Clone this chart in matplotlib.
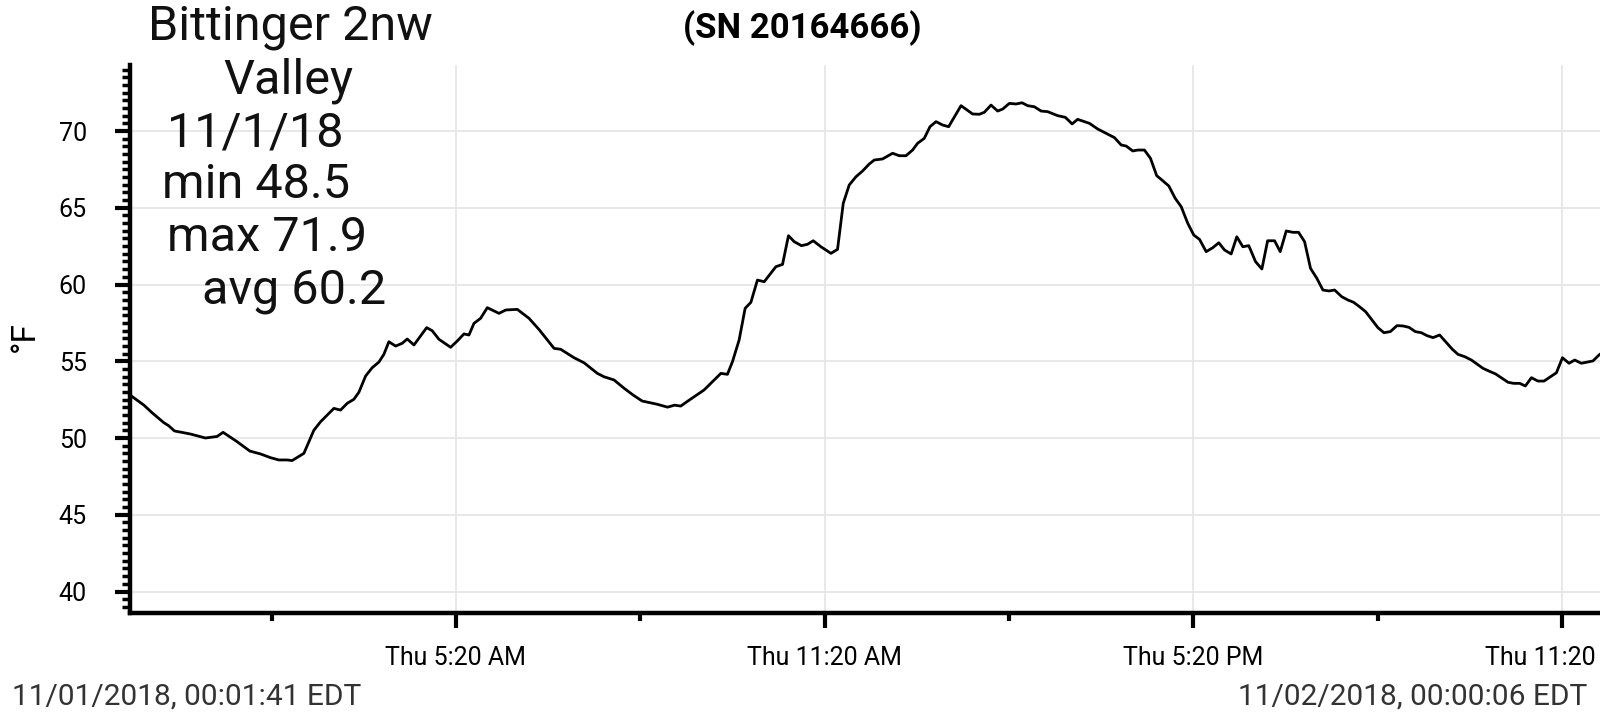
import matplotlib
matplotlib.use("Agg")
import matplotlib.pyplot as plt
from matplotlib.ticker import FixedLocator, MultipleLocator

plt.rcParams['font.family'] = ['Roboto', 'DejaVu Sans']

# minutes after midnight, 11/01/2018 (EDT)
times = [1.7, 15.1, 23.2, 34.7, 39.5, 45.1, 60.7, 75.4, 86.7, 92.6, 106.3, 118.7, 129.2, 138.9, 147.0,
         155.1, 160.0, 171.5, 181.2, 187.8, 200.8, 207.3, 213.8, 220.3, 225.2, 231.8, 238.2, 244.8, 249.6,
         254.5, 261.1, 267.5, 272.4, 279.0, 291.4, 296.8, 303.4, 314.8, 321.3, 327.8, 332.7, 337.6, 344.1,
         350.6, 362.0, 368.6, 379.9, 391.3, 401.1, 415.8, 422.3, 435.3, 445.1, 458.1, 464.6, 474.4, 484.2,
         493.0, 501.8, 516.4, 526.6, 533.5, 539.5, 546.5, 556.5, 562.3, 570.5, 578.7, 585.1, 590.0, 596.5,
         602.4, 608.0, 614.4, 621.0, 632.4, 638.9, 644.7, 650.3, 657.4, 663.3, 668.9, 676.4, 686.2, 692.6,
         698.2, 704.0, 710.6, 717.0, 723.6, 728.5, 736.6, 746.4, 752.9, 759.5, 765.9, 770.8, 777.3, 782.9,
         788.8, 795.2, 801.1, 813.2, 824.5, 831.1, 836.0, 842.5, 849.0, 853.9, 860.4, 867.0, 872.8, 878.3,
         884.8, 891.4, 897.8, 907.6, 915.1, 921.7, 927.1, 938.6, 946.7, 954.9, 963.0, 969.6, 974.5, 980.9,
         985.8, 992.3, 998.2, 1004.3, 1010.2, 1016.1, 1022.3, 1028.2, 1034.6, 1040.5, 1046.1, 1052.6,
         1059.1, 1064.9, 1070.5, 1077.0, 1082.5, 1088.4, 1094.2, 1100.8, 1107.0, 1112.6, 1119.4, 1124.9,
         1130.8, 1137.2, 1142.8, 1148.7, 1154.5, 1160.7, 1166.6, 1172.4, 1178.0, 1185.1, 1191.0, 1196.6,
         1202.4, 1208.3, 1213.8, 1220.3, 1226.2, 1232.4, 1238.9, 1244.8, 1250.6, 1256.9, 1262.7, 1268.2,
         1274.1, 1280.6, 1286.5, 1293.0, 1298.5, 1305.0, 1311.6, 1317.5, 1322.9, 1328.8, 1335.3, 1341.5,
         1347.4, 1352.9, 1358.8, 1364.3, 1370.2, 1376.6, 1382.5, 1388.7, 1394.6, 1400.5, 1406.9, 1412.5,
         1418.9, 1430.3, 1436.2, 1440.1]

temps = [52.8, 52.15, 51.65, 51.0, 50.8, 50.46, 50.26, 50.0, 50.1, 50.37, 49.76, 49.15, 48.96, 48.72, 48.57,
         48.57, 48.53, 49.0, 50.5, 51.06, 51.93, 51.82, 52.26, 52.52, 52.98, 54.04, 54.58, 54.95, 55.45,
         56.27, 55.99, 56.17, 56.45, 56.06, 57.19, 56.99, 56.43, 55.91, 56.32, 56.78, 56.71, 57.47, 57.8,
         58.49, 58.12, 58.34, 58.38, 57.8, 57.07, 55.84, 55.78, 55.23, 54.9, 54.21, 53.99, 53.78, 53.24,
         52.8, 52.41, 52.2, 52.01, 52.14, 52.08, 52.41, 52.87, 53.13, 53.67, 54.21, 54.15, 54.97, 56.38,
         58.45, 58.84, 60.29, 60.18, 61.16, 61.31, 63.18, 62.79, 62.53, 62.62, 62.85, 62.46, 62.03, 62.29,
         65.29, 66.48, 67.02, 67.39, 67.85, 68.11, 68.18, 68.55, 68.39, 68.39, 68.76, 69.2, 69.52, 70.28,
         70.61, 70.39, 70.28, 71.65, 71.11, 71.09, 71.22, 71.69, 71.3, 71.43, 71.8, 71.76, 71.84, 71.65,
         71.58, 71.3, 71.26, 71.0, 70.89, 70.46, 70.76, 70.5, 70.13, 69.85, 69.57, 69.09, 69.02, 68.7,
         68.76, 68.76, 68.22, 67.09, 66.76, 66.42, 65.62, 65.07, 63.99, 63.22, 62.94, 62.14,
         62.4, 62.72, 62.25, 61.99, 63.11, 62.46, 62.53, 61.49, 61.01, 62.85, 62.85, 62.14,
         63.49, 63.4, 63.4, 62.79, 61.05, 60.4, 59.64, 59.58, 59.64, 59.2, 58.99, 58.84,
         58.55, 58.23, 57.75, 57.19, 56.86, 56.93, 57.32, 57.3, 57.21, 56.93, 56.86, 56.67,
         56.54, 56.71, 56.27, 55.78, 55.45, 55.3, 55.08, 54.8, 54.54, 54.36, 54.17, 53.89,
         53.63, 53.56, 53.56, 53.39, 53.93, 53.71, 53.71, 53.99, 54.25, 55.23, 54.87, 55.08,
         54.87, 55.02, 55.41, 55.6]

major_ticks = [320, 680, 1040, 1400]
major_labels = ['Thu 5:20 AM', 'Thu 11:20 AM', 'Thu 5:20 PM', 'Thu 11:20 PM']
minor_ticks = [140, 500, 860, 1220]
y_ticks = [40, 45, 50, 55, 60, 65, 70]

info_lines = ['Bittinger 2nw', 'Valley', '11/1/18', 'min 48.5', 'max 71.9', 'avg 60.2']
info_left = [148, 223, 167, 162, 167, 202]          # px from left
info_base = [40, 94, 147, 198, 251, 304]            # baseline px from top

W, H = 1600, 727
fig = plt.figure(figsize=(16, 7.27), dpi=100)
ax = fig.add_axes([130 / W, 1 - 613 / H, 1473 / W, 548 / H])

ax.plot(times, temps, color='black', lw=2.0)

ax.set_xlim(times[0], times[-1])
ax.set_ylim(38.6, 74.3)

ax.xaxis.set_major_locator(FixedLocator(major_ticks))
ax.set_xticklabels(major_labels)
ax.xaxis.set_minor_locator(FixedLocator(minor_ticks))
ax.set_yticks(y_ticks)
ax.yaxis.set_minor_locator(MultipleLocator(0.5))

ax.grid(True, which='major', color='#e6e6e6', lw=1.3)
ax.set_axisbelow(True)

for s in ['top', 'right']:
    ax.spines[s].set_visible(False)
for s in ['left', 'bottom']:
    ax.spines[s].set_linewidth(3.2)

ax.tick_params(axis='both', which='major', length=11, width=3, labelsize=18, color='black')
ax.tick_params(axis='x', which='minor', length=6, width=3)
ax.tick_params(axis='y', which='minor', length=6, width=2.5)
ax.tick_params(axis='x', which='major', pad=13)
ax.tick_params(axis='y', which='major', pad=20)

fig.text(25 / W, 1 - 337 / H, '°F', rotation=90, fontsize=24, ha='center', va='center')

fig.text(802 / W, 1 - 38 / H, '(SN 20164666)', fontsize=25, fontweight='bold',
         ha='center', va='baseline')

for txt, xl, yb in zip(info_lines, info_left, info_base):
    fig.text(xl / W, 1 - yb / H, txt, fontsize=35, ha='left', va='baseline', color='#111111')

fig.text(12 / W, 1 - 705 / H, '11/01/2018, 00:01:41 EDT', fontsize=21.5,
         color='#333333', ha='left', va='baseline')
fig.text(1587 / W, 1 - 705 / H, '11/02/2018, 00:00:06 EDT', fontsize=21.5,
         color='#333333', ha='right', va='baseline')

fig.savefig('out.png', dpi=100)
